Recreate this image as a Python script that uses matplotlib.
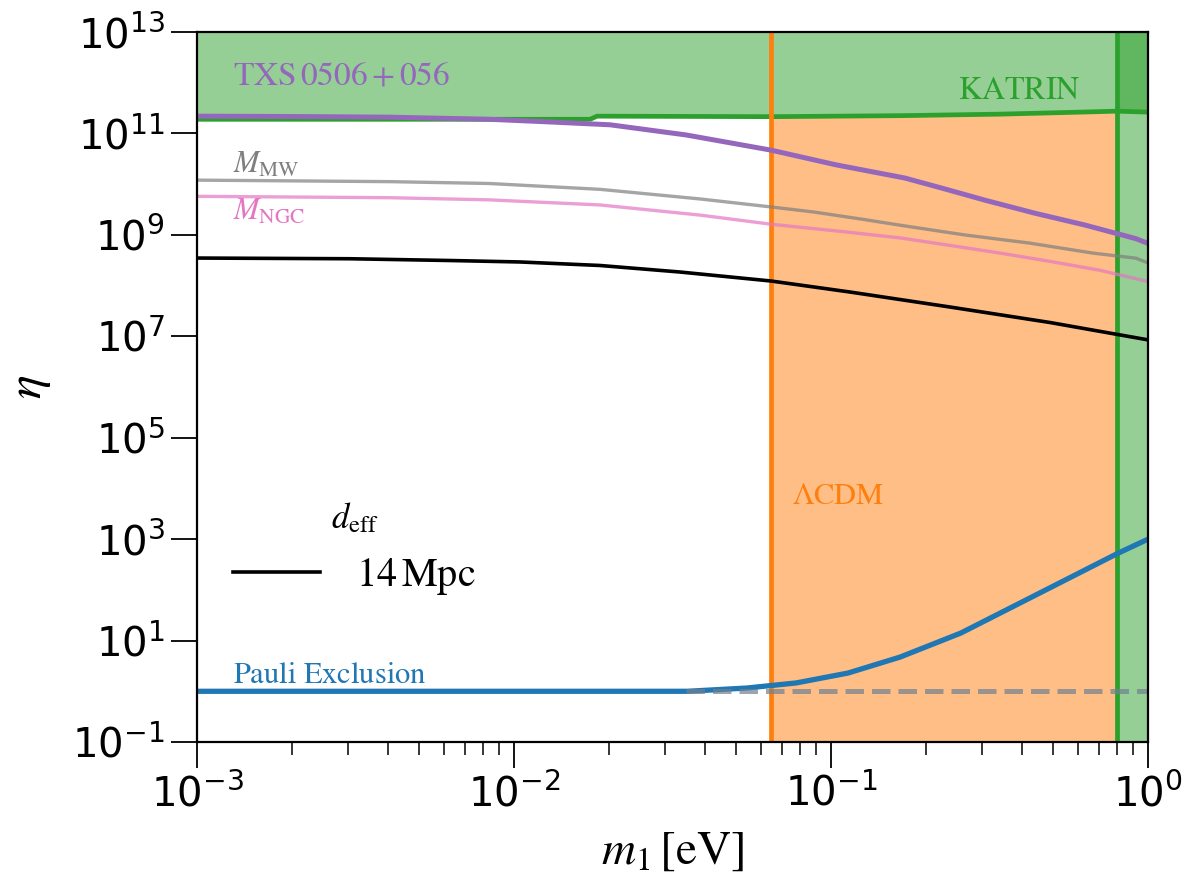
import numpy as np
import matplotlib
matplotlib.use("Agg")
import matplotlib.pyplot as plt

# ---------------- data ----------------
m_katrin = [1e-3, 0.01738, 0.01828, 0.06471, 0.1652, 0.3412, 0.6109, 0.798, 1.0]
eta_katrin = [1.9e11, 1.9e11, 2.19e11, 2.14e11, 2.24e11, 2.4e11, 2.63e11, 2.75e11, 2.63e11]

m_txs = [1e-3, 0.00209, 0.004064, 0.00835, 0.01255, 0.02009, 0.03491, 0.06471, 0.1038, 0.171,
         0.2293, 0.307, 0.441, 0.633, 0.9162, 1.0]
eta_txs = [2.19e11, 2.15e11, 2.09e11, 1.9e11, 1.7e11, 1.48e11, 9.33e10, 4.68e10, 2.4e10, 1.32e10,
           8.0e9, 4.8e9, 2.66e9, 1.56e9, 8.4e8, 6.8e8]

m_mw = [1e-3, 0.004064, 0.00835, 0.01866, 0.0387, 0.06471, 0.0883, 0.1238, 0.1652, 0.263, 0.4217,
        0.67, 0.916, 1.0]
eta_mw = [1.2e10, 1.12e10, 1.03e10, 7.9e9, 5.1e9, 3.55e9, 2.82e9, 2.06e9, 1.55e9, 1.0e9, 6.9e8,
          4.37e8, 3.47e8, 2.8e8]

m_ngc = [1e-3, 0.004064, 0.00835, 0.01866, 0.0387, 0.06471, 0.1148, 0.1652, 0.2371, 0.3412,
         0.4906, 0.706, 1.0]
eta_ngc = [5.75e9, 5.4e9, 4.9e9, 3.89e9, 2.45e9, 1.62e9, 1.12e9, 8.7e8, 6.2e8, 4.37e8,
           3.0e8, 2.0e8, 1.2e8]

m_deff = [1e-3, 0.00304, 0.00628, 0.01045, 0.01866, 0.0334, 0.06471, 0.1148, 0.2371, 0.4906, 1.0]
eta_deff = [3.49e8, 3.38e8, 3.12e8, 2.92e8, 2.49e8, 1.85e8, 1.23e8, 7.46e7, 3.78e7, 1.87e7, 8.5e6]

m_pauli = [1e-3, 0.02, 0.0352, 0.0543, 0.0776, 0.1132, 0.1652, 0.257, 0.456, 0.798, 1.0]
eta_pauli = [1.0, 1.0, 1.0, 1.16, 1.46, 2.29, 4.73, 14.1, 87.0, 515.0, 1000.0]

m_dashed = [0.035, 1.0]
eta_dashed = [1.0, 1.0]

m_lcdm = 0.0647
m_katrin_v = 0.798

xlim = (1e-3, 1.0)
ylim = (1e-1, 1e13)
yticks = [1e-1, 1e1, 1e3, 1e5, 1e7, 1e9, 1e11, 1e13]

# ---------------- figure ----------------
plt.rcParams['mathtext.fontset'] = 'dejavusans'
fig = plt.figure(figsize=(11.89, 8.81), dpi=100)
ax = fig.add_axes([197/1189, 1-742/881, (1148-197)/1189, 710/881])
ax.set_xscale('log')
ax.set_yscale('log')
ax.set_xlim(*xlim)
ax.set_ylim(*ylim)

green = '#2ca02c'
orange = '#ff7f0e'

# regions
ax.axvspan(m_lcdm, m_katrin_v, color=orange, alpha=0.5, lw=0, zorder=1)
ax.fill_between(m_katrin, eta_katrin, ylim[1], color='white', lw=0, zorder=1.1)
ax.fill_between(m_katrin, eta_katrin, ylim[1], color=green, alpha=0.5, lw=0, zorder=1.2)
ax.axvspan(m_katrin_v, 1.0, color=green, alpha=0.5, lw=0, zorder=1.3)

ax.plot(m_katrin, eta_katrin, color=green, lw=3.4, zorder=3)
ax.axvline(m_lcdm, color=orange, lw=3.4, zorder=3)
ax.axvline(m_katrin_v, color=green, lw=3.4, zorder=3)

ax.plot(m_mw, eta_mw, color='#7f7f7f', alpha=0.7, lw=2.4, zorder=4)
ax.plot(m_ngc, eta_ngc, color='#e377c2', alpha=0.7, lw=2.4, zorder=4)
ax.plot(m_txs, eta_txs, color='#9467bd', lw=3.6, zorder=4)
ax.plot(m_deff, eta_deff, color='black', lw=2.6, zorder=4, label=r'$14\,\mathrm{Mpc}$')
ax.plot(m_pauli, eta_pauli, color='#1f77b4', lw=3.8, zorder=4)
ax.plot(m_dashed, eta_dashed, color='slategray', alpha=0.7, lw=3.6, ls='--', zorder=5)

# texts
tk = dict(math_fontfamily='stix')
ax.text(1.3e-3, 9.3e11, r'$\mathrm{TXS\,0506+056}$', color='#9467bd', fontsize=24, **tk)
ax.text(0.252, 4.8e11, r'$\mathrm{KATRIN}$', color=green, fontsize=23, **tk)
ax.text(1.3e-3, 1.66e10, r'$M_{\mathrm{MW}}$', color='#7f7f7f', fontsize=22, **tk)
ax.text(1.3e-3, 1.95e9, r'$M_{\mathrm{NGC}}$', color='#e377c2', fontsize=22, **tk)
ax.text(0.0753, 4.9e3, r'$\Lambda\mathrm{CDM}$', color=orange, fontsize=22, **tk)
ax.text(1.3e-3, 1.46, r'$\mathrm{Pauli\ Exclusion}$', color='#1f77b4', fontsize=22, **tk)

leg = ax.legend(loc='upper left', bbox_to_anchor=(0.0, 0.392), frameon=False,
                fontsize=29, title=r'$d_{\mathrm{eff}}$', title_fontsize=25,
                handlelength=2.15, handletextpad=0.9)
for t in leg.get_texts():
    t.set_math_fontfamily('stix')
leg.get_title().set_math_fontfamily('stix')

ax.set_xlabel(r'$m_1\,[\mathrm{eV}]$', fontsize=34, math_fontfamily='stix', labelpad=10)
ax.set_ylabel(r'$\eta$', fontsize=36, math_fontfamily='stix', labelpad=14)

ax.set_yticks(yticks)
ax.yaxis.set_minor_locator(matplotlib.ticker.NullLocator())
ax.tick_params(which='major', direction='out', length=19, width=1.3, labelsize=29, pad=4)
ax.tick_params(which='minor', direction='out', length=9.5, width=1.1)
for s in ax.spines.values():
    s.set_linewidth(1.6)
    s.set_zorder(6)

fig.savefig('out.png', dpi=100)
